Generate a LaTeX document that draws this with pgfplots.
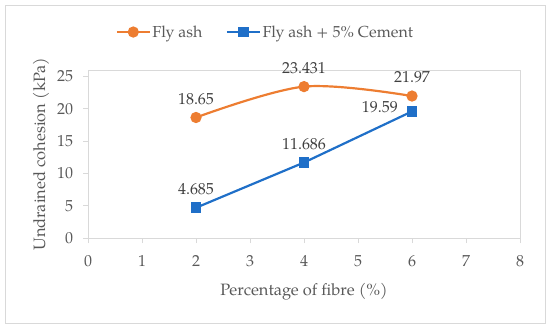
\documentclass[border=0pt]{standalone}
\usepackage{pgfplots}
\pgfplotsset{compat=1.18}
\usepackage{fontspec}
\setmainfont{TeX Gyre Pagella}
\definecolor{orangeS}{HTML}{ED7D31}
\definecolor{blueS}{HTML}{1F6FC8}
\definecolor{txt}{HTML}{595959}
\definecolor{lbl}{HTML}{404040}
\definecolor{frame}{HTML}{D9D9D9}
\begin{document}
\begin{tikzpicture}
\begin{axis}[
  scale only axis, width=432bp, height=168bp,
  xmin=0, xmax=8, ymin=0, ymax=26,
  xtick={0,1,...,8}, ytick={0,5,...,25},
  tick align=outside, tick pos=left,
  major tick length=5bp,
  every tick/.style={frame, line width=0.8pt},
  axis line style={frame, line width=0.8pt},
  /pgf/number format/assume math mode=true,
  ticklabel style={font=\fontsize{16}{19}\selectfont, text=txt},
  xticklabel style={yshift=-9bp},
  yticklabel style={xshift=-6.5bp},
  xlabel={Percentage of fibre (\%)},
  ylabel={Undrained cohesion (kPa)},
  label style={font=\fontsize{16.5}{19}\selectfont, text=txt},
  xlabel style={yshift=-10bp},
  ylabel style={yshift=1bp},
  clip=false,
  legend columns=2,
  legend style={draw=none, fill=none, at={(rel axis cs:0.41,1.226)}, anchor=center,
    font=\fontsize{16}{19}\selectfont, text=txt,
    nodes={inner sep=1.5bp},
    /tikz/every even column/.append style={column sep=22bp}},
  legend image code/.code={
    \draw[#1, mark repeat=2, mark phase=2] plot coordinates {(0bp,0bp) (16.5bp,0bp) (33bp,0bp)};},
  nodes near coords style={font=\fontsize{16}{19}\selectfont, text=lbl, inner sep=2bp},
]
\addplot[orangeS, line width=2.2pt, smooth, tension=0.55, mark=*, mark size=4.5pt,
  mark options={solid},
  nodes near coords, point meta=explicit symbolic,
  every node near coord/.append style={anchor=south, yshift=10bp}]
  coordinates {(2,18.65) [18.65] (4,23.431) [23.431] (6,21.97) [21.97]};
\addlegendentry{Fly ash}
\addplot[blueS, line width=2.2pt, mark=square*, mark size=4.3pt,
  nodes near coords, point meta=explicit symbolic,
  every node near coord/.append style={anchor=south, yshift=10bp}]
  coordinates {(2,4.685) [4.685] (4,11.686) [11.686] (6,19.59) []};
\addlegendentry{Fly ash + 5\% Cement}
\addplot[draw=none, mark=none, forget plot,
  nodes near coords, point meta=explicit symbolic,
  every node near coord/.append style={anchor=east, xshift=-12bp, yshift=4bp}]
  coordinates {(6,19.59) [19.59]};
\draw[frame, line width=0.8pt] (rel axis cs:-0.192,-0.506) rectangle (rel axis cs:1.058,1.387);
\path (rel axis cs:-0.2037,-0.5357) rectangle (rel axis cs:1.0694,1.4167);
\draw[frame, line width=0.8pt] (rel axis cs:0,0) rectangle (rel axis cs:1,1);
\end{axis}
\end{tikzpicture}
\end{document}
